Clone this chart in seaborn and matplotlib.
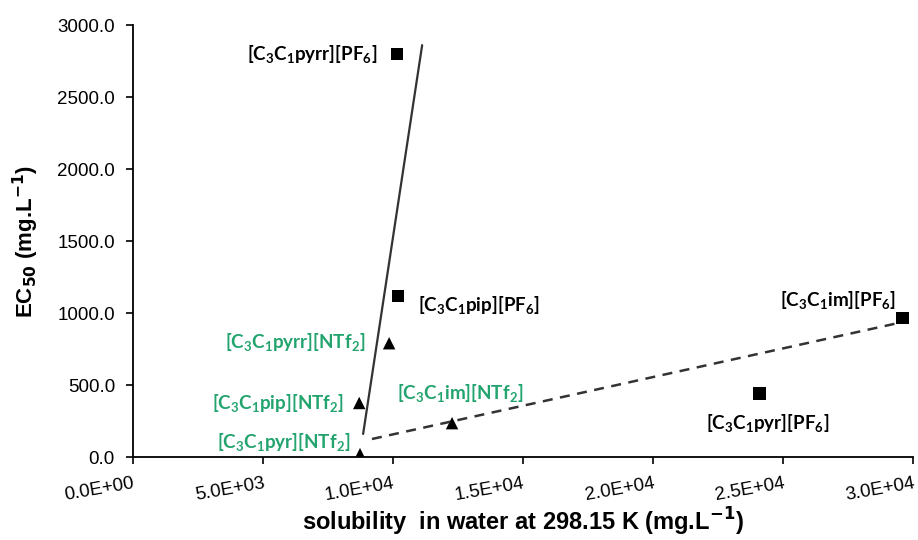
import numpy as np
import pandas as pd
import matplotlib
matplotlib.use('Agg')
import matplotlib.pyplot as plt
import seaborn as sns

# data
ionic_liquids = ['[C$_3$C$_1$pyrr][PF$_6$]', '[C$_3$C$_1$pip][PF$_6$]',
                 '[C$_3$C$_1$pyr][PF$_6$]', '[C$_3$C$_1$im][PF$_6$]',
                 '[C$_3$C$_1$pyrr][NTf$_2$]', '[C$_3$C$_1$pip][NTf$_2$]',
                 '[C$_3$C$_1$pyr][NTf$_2$]', '[C$_3$C$_1$im][NTf$_2$]']
anion = ['PF6', 'PF6', 'PF6', 'PF6', 'NTf2', 'NTf2', 'NTf2', 'NTf2']
solubility = [10150, 10200, 24100, 29600, 9850, 8700, 8730, 12270]
ec50 = [2800, 1120, 440, 965, 790, 375, 20, 235]

# trend lines (end points)
solid_x = [8850, 11120]
solid_y = [160, 2860]
dashed_x = [9190, 29420]
dashed_y = [125, 930]

x_ticks = [0, 5000, 10000, 15000, 20000, 25000, 30000]
y_ticks = [0, 500, 1000, 1500, 2000, 2500, 3000]

df = pd.DataFrame({'name': ionic_liquids, 'anion': anion,
                   'solubility': solubility, 'ec50': ec50})

sns.set_theme(style='white')
plt.rcParams['font.family'] = ['Liberation Sans', 'DejaVu Sans']
plt.rcParams['text.color'] = 'black'
plt.rcParams['axes.labelcolor'] = 'black'
plt.rcParams['xtick.color'] = 'black'
plt.rcParams['ytick.color'] = 'black'
plt.rcParams['mathtext.fontset'] = 'custom'
plt.rcParams['mathtext.rm'] = 'Lato:bold'
plt.rcParams['mathtext.it'] = 'Lato:bold'
plt.rcParams['mathtext.bf'] = 'Lato:bold'

fig = plt.figure(figsize=(9.18, 5.40), dpi=100)
ax = fig.add_axes([0.1449, 0.1537, 0.8497, 0.8000])

ax.plot(solid_x, solid_y, color='#333333', lw=1.6)
ax.plot(dashed_x, dashed_y, color='#333333', lw=1.8, ls=(0, (4, 3)))

sns.scatterplot(data=df, x='solubility', y='ec50', style='anion',
                markers={'PF6': 's', 'NTf2': '^'}, color='black',
                s=80, edgecolor='black', linewidth=0, legend=False, ax=ax)

# label placement: (dx, dy) in pixels, horizontal alignment
label_pos = [(-20, 0, 'right'), (20, -9, 'left'), (8, -29, 'center'),
             (-6, 18, 'right'), (-24, 1, 'right'), (-15, 0, 'right'),
             (-9, 12, 'right'), (8, 30, 'center')]
for i, row in df.iterrows():
    dx, dy, ha = label_pos[i]
    col = 'black' if row['anion'] == 'PF6' else '#23a46e'
    ax.annotate(row['name'], (row['solubility'], row['ec50']),
                xytext=(dx, dy), textcoords='offset pixels',
                ha=ha, va='center', fontsize=13.5, color=col,
                family='Lato', fontweight='bold')

ax.set_xlim(0, 30000)
ax.set_ylim(0, 3000)
ax.set_xticks(x_ticks)
ax.set_xticklabels([f'{v:.1E}' for v in x_ticks], rotation=10,
                   ha='right', rotation_mode='anchor', fontsize=13.5)
ax.set_yticks(y_ticks)
ax.set_yticklabels([f'{v:.1f}' for v in y_ticks], fontsize=13.5)

ax.tick_params(axis='both', direction='out', length=5, width=1.2,
               color='black', labelcolor='black', bottom=True, left=True)
ax.tick_params(axis='x', pad=8)
ax.tick_params(axis='y', pad=8)
for sp in ['top', 'right']:
    ax.spines[sp].set_visible(False)
for sp in ['left', 'bottom']:
    ax.spines[sp].set_color('black')
    ax.spines[sp].set_linewidth(1.3)

ax.set_xlabel('solubility  in water at 298.15 K (mg.L$^{\\mathbf{-1}}$)',
              fontsize=17, fontweight='bold', math_fontfamily='dejavusans',
              labelpad=1, color='black')
ax.set_ylabel('EC$_{\\mathbf{50}}$ (mg.L$^{\\mathbf{-1}}$)',
              fontsize=16, fontweight='bold', math_fontfamily='dejavusans',
              labelpad=12, color='black')

fig.savefig('out.png', dpi=100, facecolor='white')
